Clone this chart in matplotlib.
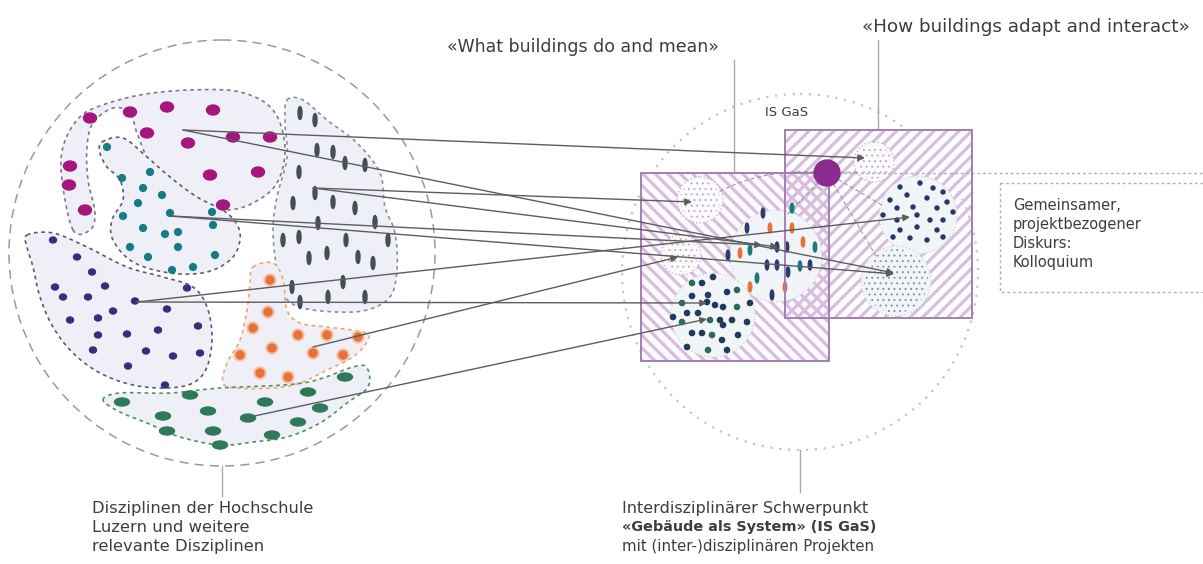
import numpy as np
import matplotlib
matplotlib.use("Agg")
import matplotlib.pyplot as plt
from matplotlib.patches import Circle, Ellipse, Rectangle, Polygon

plt.rcParams['font.family'] = ['DejaVu Sans']
plt.rcParams['hatch.linewidth'] = 0.7

# ---------------- data (pixel coordinates of the diagram, y downward) -------------
magenta_outline = [(73,230),(62,180),(63,147),(77,120),(97,107),(140,95),(190,90),(240,92),
                   (273,110),(285,147),(277,183),(253,203),(227,210),(200,205),(173,190),
                   (150,163),(137,133),(130,113),(113,108),(93,123),(87,147),(88,180),(95,213),(90,230)]
magenta_dots = [(70,166),(69,185),(85,210),(90,118),(130,112),(167,107),(213,110),(147,133),
                (188,143),(233,137),(270,137),(210,175),(258,172),(223,205)]
teal_outline = [(102,142),(123,138),(147,157),(170,177),(197,197),(227,213),(240,233),(233,257),
                (207,272),(170,273),(133,262),(113,240),(112,220),(123,200),(120,180),(107,167),(100,153)]
teal_dots = [(107,147),(150,172),(143,188),(162,195),(138,203),(123,216),(170,213),(213,225),
             (143,228),(165,234),(178,232),(178,247),(130,247),(148,257),(215,255),(172,270),
             (193,267),(122,178),(212,212)]
navy_outline = [(27,235),(53,233),(87,247),(127,267),(163,277),(193,287),(207,307),(212,337),
                (207,367),(193,383),(167,388),(133,385),(100,373),(73,353),(53,327),(40,297),
                (33,267),(27,247)]
navy_dots = [(53,240),(77,257),(92,272),(105,286),(55,287),(63,297),(88,297),(113,311),(135,301),
             (167,309),(187,288),(70,320),(98,318),(98,335),(127,334),(158,330),(198,326),(93,350),
             (146,351),(173,356),(200,353),(128,366),(165,385)]
gray_outline = [(287,100),(303,100),(327,120),(357,143),(380,173),(385,207),(395,233),(397,270),
                (390,297),(367,310),(337,312),(303,308),(285,297),(277,270),(273,230),(277,197),
                (287,157),(285,123)]
gray_dashes = [(300,113),(315,120),(317,150),(333,152),(345,163),(365,165),(299,172),(315,193),
               (293,203),(333,202),(355,208),(375,222),(318,223),(283,240),(299,237),(346,240),
               (388,240),(309,258),(327,253),(358,257),(373,263),(292,287),(343,282),(328,297),
               (365,297),(300,302)]
orange_outline = [(253,267),(273,263),(283,280),(287,310),(300,323),(327,327),(363,332),(368,340),
                  (353,357),(327,370),(300,383),(273,388),(237,388),(223,383),(227,363),(240,340),
                  (247,310),(250,283)]
orange_dots = [(270,280),(268,312),(253,328),(298,335),(327,335),(358,337),(272,348),(313,353),
               (343,355),(240,355),(260,373),(288,377)]
green_outline = [(103,400),(120,393),(170,393),(220,388),(303,383),(353,367),(367,368),(368,387),
                 (347,403),(320,423),(287,437),(253,442),(220,445),(180,437),(147,423),(120,412)]
green_dots = [(122,402),(190,395),(265,402),(308,392),(345,377),(163,416),(208,411),(248,418),
              (298,422),(320,408),(167,431),(213,431),(272,435),(220,445)]

# IS GaS sub-circles (cx, cy, r)
circ_A = (700, 200, 23)
circ_B = (776, 256, 46)
circ_C = (681, 255, 20)
circ_D = (713, 315, 42)
circ_E = (874, 162, 20)
circ_F = (918, 215, 39)
circ_G = (896, 281, 35)

B_ticks = [(763,213,'n'),(792,208,'t'),(747,228,'n'),(770,228,'o'),(792,228,'o'),(803,242,'o'),
           (815,247,'t'),(750,250,'t'),(777,247,'n'),(787,247,'n'),(728,255,'n'),(740,253,'o'),
           (767,265,'n'),(777,265,'n'),(800,266,'t'),(810,265,'n'),(788,272,'n'),(757,278,'t'),
           (785,287,'o'),(750,287,'o'),(772,295,'n')]
D_dots = [(692,283),(702,283),(713,277),(727,292),(737,290),(692,296),(708,295),(750,303),(682,303),
          (707,302),(715,305),(723,307),(737,307),(673,317),(687,313),(698,313),(710,320),(720,320),
          (732,320),(747,322),(682,322),(723,325),(692,333),(702,333),(712,335),(722,340),(738,335),
          (687,347),(708,350),(727,350)]
F_dots = [(900,187),(920,183),(933,188),(943,192),(890,200),(907,195),(927,198),(947,202),(897,208),
          (913,207),(937,208),(953,212),(883,215),(897,220),(917,215),(930,220),(943,220),(900,230),
          (917,227),(937,230),(910,238),(927,240),(943,237),(893,237)]

# arrows: source -> target
arrow_src = [(183,130),(183,130),(313,188),(313,188),(170,216),(170,216),(137,302),(137,302),(313,347),(245,418)]
arrow_dst = [(865,158),(894,273),(692,202),(778,247),(762,245),(894,274),(910,217),(707,303),(678,257),(707,319)]

rect1 = (641, 173, 829, 361)
rect2 = (785, 130, 972, 318)
purple_dot = (827, 173, 13)

title_left = "«What buildings do and mean»"
title_right = "«How buildings adapt and interact»"
box_lines = ["Gemeinsamer,", "projektbezogener", "Diskurs:", "Kolloquium"]
left_caption = ["Disziplinen der Hochschule", "Luzern und weitere", "relevante Disziplinen"]
right_caption = ["Interdisziplinärer Schwerpunkt", "«Gebäude als System» (IS GaS)",
                 "mit (inter-)disziplinären Projekten"]

# ---------------- helpers ----------------
def smooth_closed(pts, n=12):
    p = np.array(pts, dtype=float)
    m = len(p)
    out = []
    for i in range(m):
        p0, p1, p2, p3 = p[(i-1) % m], p[i], p[(i+1) % m], p[(i+2) % m]
        for t in np.linspace(0, 1, n, endpoint=False):
            t2, t3 = t*t, t*t*t
            out.append(0.5*((2*p1) + (-p0+p2)*t + (2*p0-5*p1+4*p2-p3)*t2 + (-p0+3*p1-3*p2+p3)*t3))
    return np.array(out)

fig = plt.figure(figsize=(12.03, 5.64), dpi=100)
ax = fig.add_axes([0, 0, 1, 1])
ax.set_xlim(0, 1203)
ax.set_ylim(564, 0)
ax.set_aspect('equal')
ax.axis('off')

fill_c = '#eff0f7'
txt_c = '#3d3d3d'

def blob(pts, edge, z=2):
    s = smooth_closed(pts)
    ax.add_patch(Polygon(s, closed=True, facecolor=fill_c, edgecolor='none', zorder=z))
    ax.add_patch(Polygon(s, closed=True, facecolor='none', edgecolor=edge, lw=1.2,
                         linestyle=(0, (2.2, 2.2)), zorder=z+0.5))

def hatch_rect(r, sign, spacing=12.5, color='#d7bde0', lw=2.3, z=2):
    x0, y0, x1, y1 = r
    clip = Rectangle((x0, y0), x1-x0, y1-y0, facecolor='none', edgecolor='none')
    ax.add_patch(clip)
    w, h = x1-x0, y1-y0
    for c in np.arange(-w-h, w+h, spacing):
        xs = np.array([x0-10, x1+10])
        ys = y0 + c + sign*(xs - x0)
        ln, = ax.plot(xs, ys, color=color, lw=lw, zorder=z, solid_capstyle='butt')
        ln.set_clip_path(clip)

# big dashed circle
ax.add_patch(Circle((222, 253), 213, fill=False, edgecolor='#9a9a9a', lw=1.1,
                    linestyle=(0, (6, 4)), zorder=1))
ax.plot([222, 222], [466, 496], color='#aaaaaa', lw=1, zorder=1)

blob(magenta_outline, '#7f7688', 2)
blob(teal_outline, '#5a5f66', 3)
blob(navy_outline, '#5d5870', 2)
blob(gray_outline, '#8a8f96', 2)
blob(orange_outline, '#f2a26f', 3)
blob(green_outline, '#4f8f66', 3)

for x, y in magenta_dots:
    ax.add_patch(Ellipse((x, y), 13, 10, color='#a5167c', zorder=6))
for x, y in teal_dots:
    ax.add_patch(Circle((x, y), 3.4, color='#147c82', zorder=6))
for x, y in navy_dots:
    ax.add_patch(Ellipse((x, y), 7, 6, color='#3a2c78', zorder=6))
for x, y in gray_dashes:
    ax.add_patch(Ellipse((x, y), 4, 13, color='#454d57', zorder=6))
for x, y in orange_dots:
    ax.add_patch(Circle((x, y), 6, color='#f6c4a6', zorder=5.5))
    ax.add_patch(Circle((x, y), 4, color='#e8713a', zorder=6))
for x, y in green_dots:
    ax.add_patch(Ellipse((x, y), 15, 8, color='#2e7a58', zorder=6))

# right dotted circle
ax.add_patch(Circle((800, 272), 178, fill=False, edgecolor='#c4c4c4', lw=1.6,
                    linestyle=(0, (1, 3)), zorder=1))
ax.plot([800, 800], [450, 492], color='#aaaaaa', lw=1, zorder=1)
ax.text(787, 113, "IS GaS", ha='center', va='center', fontsize=9.5, color=txt_c, zorder=9)

# hatched rectangles
x0, y0, x1, y1 = rect1
ax.add_patch(Rectangle((x0, y0), x1-x0, y1-y0, facecolor='#fefbfe', edgecolor='none', zorder=1.9))
hatch_rect(rect1, +1, z=2)
hatch_rect(rect2, -1, z=2.1)
for r in (rect1, rect2):
    x0, y0, x1, y1 = r
    ax.add_patch(Rectangle((x0, y0), x1-x0, y1-y0, facecolor='none', edgecolor='#a47eb2',
                           lw=1.4, zorder=7))

# sub-circles
for c in (circ_A, circ_C, circ_E):
    ax.add_patch(Circle(c[:2], c[2], facecolor='#fcfafc', edgecolor='#b0b0b0', lw=0.9,
                        linestyle=(0, (1, 2)), zorder=3))
    ax.add_patch(Circle(c[:2], c[2]-3, facecolor='none', edgecolor='#b3b3bd', hatch='...',
                        lw=0, zorder=3.1))
for c in (circ_B, circ_D, circ_F, circ_G):
    ax.add_patch(Circle(c[:2], c[2], facecolor='#f2f5f8', edgecolor='#c8c8cc', lw=0.8,
                        linestyle=(0, (1, 2)), zorder=3))
ax.add_patch(Circle(circ_G[:2], circ_G[2]-3, facecolor='none', edgecolor='#8a8fa0',
                    hatch='...', lw=0, zorder=3.1))

tick_cols = {'n': '#2e3b6e', 't': '#1c7a7e', 'o': '#e8713a'}
for x, y, k in B_ticks:
    ax.add_patch(Ellipse((x, y), 3.5, 10, color=tick_cols[k], zorder=6))
for i, (x, y) in enumerate(D_dots):
    ax.add_patch(Circle((x, y), 2.6, color='#1f3a5a' if i % 4 else '#2a6b5e', zorder=6))
for x, y in F_dots:
    ax.add_patch(Circle((x, y), 2.0, color='#2b3566', zorder=6))

# purple circle and faint dashed connections
px, py, pr = purple_dot
for tx, ty, rad in [(circ_A[0]+18, circ_A[1]-8, 0.15), (circ_G[0]-20, circ_G[1]-25, 0.0),
                    (circ_B[0]+10, circ_B[1]-40, 0.0), (circ_F[0]-36, circ_F[1]-10, 0.0),
                    (circ_E[0]-15, circ_E[1]+10, 0.0)]:
    ax.annotate('', xy=(tx, ty), xytext=(px, py),
                arrowprops=dict(arrowstyle='-', color='#9a9a9a', lw=0.8, linestyle=(0, (3, 3)),
                                connectionstyle=f'arc3,rad={rad}', shrinkA=0, shrinkB=0), zorder=4)
ax.plot([px, 1203], [py, py], color='#b5a6b8', lw=1, linestyle=(0, (2, 2)), zorder=4)
ax.add_patch(Circle((px, py), pr, color='#8b2a8f', zorder=9))

# arrows
for (sx, sy), (tx, ty) in zip(arrow_src, arrow_dst):
    ax.annotate('', xy=(tx, ty), xytext=(sx, sy),
                arrowprops=dict(arrowstyle='-|>', color='#5d5d5d', lw=1.0, mutation_scale=10,
                                shrinkA=0, shrinkB=0), zorder=8)

# top labels and leader lines
ax.text(447, 47, title_left, ha='left', va='center', fontsize=12.5, color=txt_c)
ax.plot([734, 734], [60, 173], color='#aaaaaa', lw=1, zorder=1)
ax.text(862, 27, title_right, ha='left', va='center', fontsize=13.2, color=txt_c)
ax.plot([878, 878], [40, 130], color='#aaaaaa', lw=1, zorder=1)

# discourse box
ax.add_patch(Rectangle((1000, 183), 220, 109, facecolor='none', edgecolor='#b8a8bb', lw=1,
                       linestyle=(0, (2, 2)), zorder=4, clip_on=True))
for i, s in enumerate(box_lines):
    ax.text(1013, 205 + 19*i, s, ha='left', va='center', fontsize=10.5, color=txt_c)

# bottom captions
for i, s in enumerate(left_caption):
    ax.text(92, 508 + 19*i, s, ha='left', va='center', fontsize=11.8, color=txt_c)
rc_sizes = [11.5, 10.4, 10.8]
for i, s in enumerate(right_caption):
    ax.text(622, 508 + 19*i, s, ha='left', va='center', fontsize=rc_sizes[i], color=txt_c,
            fontweight='bold' if i == 1 else 'normal')

fig.savefig('out.png', dpi=100)
